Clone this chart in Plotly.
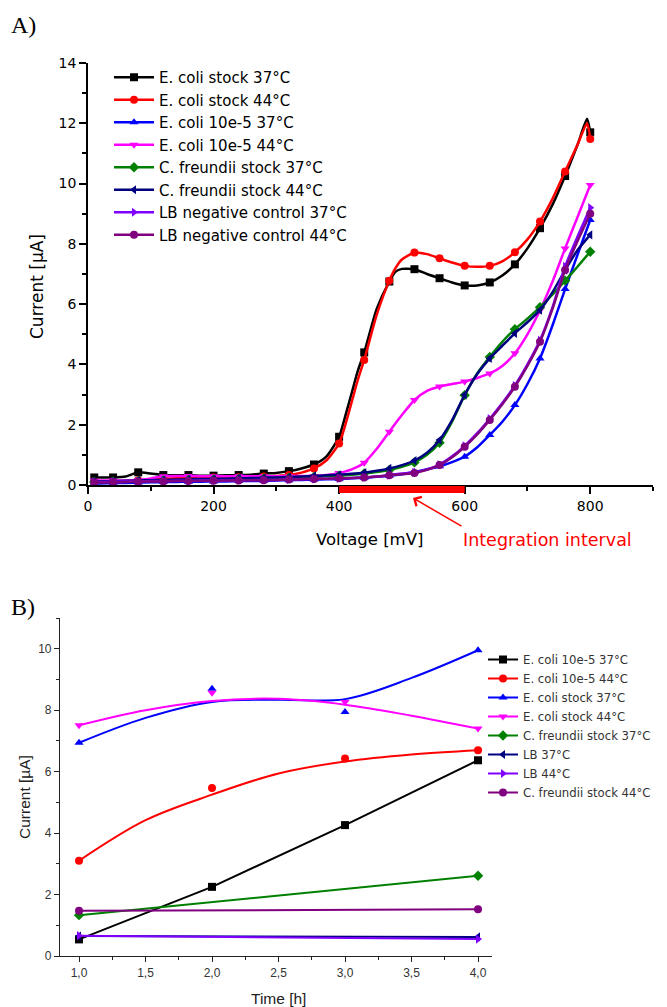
import plotly.graph_objects as go

# ---------------- Panel A data (Voltage sweep) ----------------
VOLTAGE = [10, 20, 40, 60, 80, 100, 120, 140, 160, 180, 200, 220, 240, 260, 280, 300,
           320, 340, 360, 380, 400, 420, 440, 460, 480, 500, 520, 540, 560, 580, 600,
           620, 640, 660, 680, 700, 720, 740, 760, 780, 800]
VOLTAGE_STOCK = [10, 20, 40, 60, 80, 100, 120, 140, 160, 180, 200, 220, 240, 260, 280, 300,
                 320, 340, 360, 380, 400, 410, 420, 430, 440, 460, 480, 490, 500, 520, 540,
                 560, 580, 600, 620, 640, 660, 680, 700, 720, 740, 760, 780, 795, 800]

ecoli_stock_37 = [0.25, 0.25, 0.25, 0.28, 0.42, 0.38, 0.33, 0.32, 0.33, 0.31, 0.31, 0.32, 0.33,
                  0.34, 0.38, 0.40, 0.46, 0.55, 0.68, 0.95, 1.60, 2.30, 3.05, 3.80, 4.40, 5.85,
                  6.75, 7.08, 7.17, 7.16, 7.00, 6.86, 6.72, 6.62, 6.62, 6.72, 6.95, 7.32, 7.85,
                  8.52, 9.30, 10.25, 11.30, 12.15, 11.70]
ecoli_stock_44 = [0.08, 0.09, 0.11, 0.13, 0.16, 0.19, 0.21, 0.22, 0.23, 0.24, 0.25, 0.25, 0.26,
                  0.27, 0.28, 0.30, 0.33, 0.41, 0.55, 0.82, 1.38, 2.00, 2.75, 3.50, 4.15, 5.65,
                  6.78, 7.20, 7.48, 7.71, 7.66, 7.52, 7.38, 7.27, 7.24, 7.27, 7.42, 7.72, 8.15,
                  8.74, 9.50, 10.40, 11.30, 12.00, 11.48]
ecoli_10e5_37 = [0.05, 0.05, 0.06, 0.07, 0.08, 0.09, 0.10, 0.10, 0.11, 0.11, 0.12, 0.12, 0.13,
                 0.13, 0.14, 0.15, 0.16, 0.17, 0.18, 0.19, 0.20, 0.22, 0.24, 0.27, 0.31, 0.36,
                 0.43, 0.52, 0.62, 0.76, 0.94, 1.25, 1.66, 2.10, 2.65, 3.35, 4.20, 5.30, 6.50,
                 7.65, 8.79]
ecoli_10e5_44 = [0.15, 0.15, 0.15, 0.15, 0.17, 0.22, 0.29, 0.30, 0.30, 0.29, 0.29, 0.29, 0.29,
                 0.29, 0.29, 0.29, 0.29, 0.30, 0.30, 0.33, 0.40, 0.52, 0.74, 1.20, 1.77, 2.32,
                 2.82, 3.12, 3.27, 3.35, 3.43, 3.55, 3.70, 3.95, 4.37, 5.00, 5.80, 6.75, 7.85,
                 8.90, 9.95]
cfreundii_37 = [0.10, 0.10, 0.11, 0.12, 0.13, 0.14, 0.15, 0.16, 0.17, 0.18, 0.18, 0.19, 0.20,
                0.21, 0.22, 0.23, 0.24, 0.26, 0.27, 0.29, 0.31, 0.34, 0.38, 0.43, 0.50, 0.60,
                0.75, 1.00, 1.40, 2.10, 2.98, 3.70, 4.25, 4.75, 5.17, 5.52, 5.90, 6.32, 6.78,
                7.25, 7.74]
cfreundii_44 = [0.12, 0.12, 0.13, 0.14, 0.15, 0.16, 0.17, 0.18, 0.19, 0.20, 0.20, 0.21, 0.22,
                0.23, 0.24, 0.25, 0.26, 0.28, 0.30, 0.32, 0.34, 0.37, 0.41, 0.47, 0.55, 0.66,
                0.81, 1.07, 1.49, 2.15, 2.99, 3.68, 4.20, 4.62, 5.03, 5.40, 5.80, 6.40, 7.13,
                7.80, 8.30]
lb_37 = [0.10, 0.10, 0.11, 0.12, 0.12, 0.13, 0.13, 0.14, 0.14, 0.15, 0.15, 0.15, 0.16, 0.16,
         0.17, 0.17, 0.18, 0.19, 0.20, 0.21, 0.22, 0.23, 0.25, 0.28, 0.33, 0.38, 0.42, 0.52,
         0.68, 0.95, 1.30, 1.72, 2.20, 2.72, 3.30, 4.00, 4.80, 5.90, 7.25, 8.25, 9.20]
lb_44 = [0.08, 0.08, 0.09, 0.10, 0.11, 0.12, 0.12, 0.13, 0.13, 0.14, 0.14, 0.15, 0.15, 0.16,
         0.16, 0.17, 0.18, 0.19, 0.20, 0.21, 0.22, 0.23, 0.25, 0.28, 0.32, 0.36, 0.40, 0.50,
         0.66, 0.92, 1.27, 1.68, 2.16, 2.68, 3.26, 3.95, 4.75, 5.85, 7.13, 8.10, 9.00]

A_NAMES = ["E. coli stock 37°C", "E. coli stock 44°C", "E. coli 10e-5 37°C", "E. coli 10e-5 44°C",
           "C. freundii stock 37°C", "C. freundii stock 44°C", "LB negative control 37°C",
           "LB negative control 44°C"]
INTEGRATION_INTERVAL = [400, 600]

# ---------------- Panel B data (Time course) ----------------
TIME = [1, 2, 3, 4]
TIME_ENDS = [1, 4]
FIT_TIME = [1, 1.5, 2, 2.5, 3, 3.5, 4]

b_ecoli_10e5_37 = [0.54, 2.25, 4.26, 6.37]
b_ecoli_10e5_44 = [3.10, 5.47, 6.43, 6.70]
b_ecoli_10e5_44_fit = [3.10, 4.42, 5.25, 5.94, 6.33, 6.56, 6.70]
b_ecoli_stock_37 = [6.94, 8.70, 7.94, 9.95]
b_ecoli_stock_37_fit = [6.94, 7.75, 8.27, 8.34, 8.36, 9.05, 9.95]
b_ecoli_stock_44 = [7.51, 8.57, 8.27, 7.40]
b_ecoli_stock_44_fit = [7.51, 8.00, 8.30, 8.37, 8.18, 7.82, 7.40]
b_cfreundii_37 = [1.33, 2.61]
b_lb_37 = [0.65, 0.62]
b_lb_44 = [0.66, 0.55]
b_cfreundii_44 = [1.47, 1.52]

# The page body has an 8 px margin, so the figure is 8 px smaller and
# reference-pixel positions are converted with that offset.
OFF = 8
W, H = 667 - OFF, 1007 - OFF
def px(x):
    return (x - OFF) / W
def py(y):
    return 1 - (y - OFF) / H

FONT = "Liberation Sans, Arial, sans-serif"
FONT_A = "DejaVu Sans, Liberation Sans, sans-serif"
fig = go.Figure()

def mcolors(xs, color):
    return [color if (v == 10 or v % 40 == 0) else "rgba(0,0,0,0)" for v in xs]

a_series = [
    (VOLTAGE_STOCK, ecoli_stock_37, "#000000", "square"),
    (VOLTAGE_STOCK, ecoli_stock_44, "#ff0000", "circle"),
    (VOLTAGE, ecoli_10e5_37, "#0000ff", "triangle-up"),
    (VOLTAGE, ecoli_10e5_44, "#ff00ff", "triangle-down"),
    (VOLTAGE, cfreundii_37, "#008000", "diamond"),
    (VOLTAGE, cfreundii_44, "#000080", "triangle-left"),
    (VOLTAGE, lb_37, "#8000ff", "triangle-right"),
    (VOLTAGE, lb_44, "#800080", "circle"),
]
for name, (xs, ys, c, sym) in zip(A_NAMES, a_series):
    fig.add_trace(go.Scatter(
        x=xs, y=ys, name=name, mode="lines+markers", xaxis="x", yaxis="y",
        legend="legend", cliponaxis=False,
        line=dict(color=c, width=2.5, shape="spline", smoothing=0.6),
        marker=dict(symbol=sym, size=8, color=mcolors(xs, c), line=dict(width=0)),
    ))

# Panel B
def b_line(name, xs, ys, c, sym):
    fig.add_trace(go.Scatter(
        x=xs, y=ys, name=name, mode="lines+markers", xaxis="x2", yaxis="y2",
        legend="legend2", cliponaxis=False,
        line=dict(color=c, width=2), marker=dict(symbol=sym, size=8, color=c)))

def b_fit(name, xs, ys, fx, fy, c, sym):
    fig.add_trace(go.Scatter(
        x=fx, y=fy, mode="lines", xaxis="x2", yaxis="y2", showlegend=False,
        line=dict(color=c, width=2, shape="spline", smoothing=1.0), hoverinfo="skip"))
    fig.add_trace(go.Scatter(
        x=xs, y=ys, mode="markers", xaxis="x2", yaxis="y2", showlegend=False,
        cliponaxis=False, marker=dict(symbol=sym, size=8, color=c)))
    fig.add_trace(go.Scatter(
        x=[None], y=[None], name=name, mode="lines+markers", xaxis="x2", yaxis="y2",
        legend="legend2", line=dict(color=c, width=2), marker=dict(symbol=sym, size=8, color=c)))

b_line("E. coli 10e-5 37°C", TIME, b_ecoli_10e5_37, "#000000", "square")
b_fit("E. coli 10e-5 44°C", TIME, b_ecoli_10e5_44, FIT_TIME, b_ecoli_10e5_44_fit, "#ff0000", "circle")
b_fit("E. coli stock 37°C", TIME, b_ecoli_stock_37, FIT_TIME, b_ecoli_stock_37_fit, "#0000ff", "triangle-up")
b_fit("E. coli stock 44°C", TIME, b_ecoli_stock_44, FIT_TIME, b_ecoli_stock_44_fit, "#ff00ff", "triangle-down")
b_line("C. freundii stock 37°C", TIME_ENDS, b_cfreundii_37, "#008000", "diamond")
b_line("LB 37°C", TIME_ENDS, b_lb_37, "#000080", "triangle-left")
b_line("LB 44°C", TIME_ENDS, b_lb_44, "#8000ff", "triangle-right")
b_line("C. freundii stock 44°C", TIME_ENDS, b_cfreundii_44, "#800080", "circle")

axA = dict(showline=True, linecolor="black", linewidth=1.5, ticks="outside", ticklen=7,
           tickwidth=1.5, tickcolor="black", showgrid=False, zeroline=False, automargin=False,
           tickfont=dict(family=FONT_A, size=14, color="black"))
axB = dict(showline=True, linecolor="#222222", linewidth=1.2, ticks="outside", ticklen=5,
           tickwidth=1.2, tickcolor="#222222", showgrid=False, zeroline=False, automargin=False,
           tickfont=dict(family=FONT, size=12, color="#333333"))

fig.update_layout(
    template="none",
    width=W, height=H, margin=dict(l=0, r=0, t=0, b=0, pad=0, autoexpand=False), autosize=False,
    paper_bgcolor="white", plot_bgcolor="white", separators=", ",
    font=dict(family=FONT, color="black"),
    xaxis=dict(axA, domain=[px(88), px(653)], range=[0, 900], dtick=200, tick0=0, anchor="y",
               minor=dict(dtick=100, ticks="outside", ticklen=4, tickwidth=1.5, tickcolor="black")),
    yaxis=dict(axA, domain=[py(485), py(63)], range=[0, 14], dtick=2, tick0=0, anchor="x",
               minor=dict(dtick=1, ticks="outside", ticklen=4, tickwidth=1.5, tickcolor="black")),
    xaxis2=dict(axB, domain=[px(60), px(492)], range=[0.857, 4.105], dtick=0.5, tick0=1,
                tickformat=".1f", anchor="y2",
                minor=dict(dtick=0.25, ticks="outside", ticklen=3, tickwidth=1.2, tickcolor="#222222")),
    yaxis2=dict(axB, domain=[py(956), py(618)], range=[0, 11], dtick=2, tick0=0, anchor="x2",
                minor=dict(dtick=1, ticks="outside", ticklen=3, tickwidth=1.2, tickcolor="#222222")),
    legend=dict(x=px(109), y=py(61), xanchor="left", yanchor="top", bgcolor="rgba(0,0,0,0)",
                font=dict(family=FONT_A, size=15, color="black"), itemwidth=40, tracegroupgap=0),
    legend2=dict(x=px(483), y=py(645), xanchor="left", yanchor="top", bgcolor="rgba(0,0,0,0)",
                 font=dict(family=FONT_A, size=11.7, color="#333333"), itemwidth=30, tracegroupgap=0),
)

# integration interval bar under the A x-axis
fig.add_shape(type="rect", xref="x", yref="paper", x0=INTEGRATION_INTERVAL[0], x1=INTEGRATION_INTERVAL[1],
              y0=py(493), y1=py(486), fillcolor="#ff0000", line=dict(width=0))

SERIF = "Liberation Serif, Times New Roman, serif"
def text_ann(x, y, text, font, angle=0, xanchor="center"):
    return dict(xref="paper", yref="paper", x=px(x), y=py(y), text=text, textangle=angle,
                xanchor=xanchor, yanchor="middle", showarrow=False, font=font)

ann = [
    dict(xref="paper", yref="paper", x=px(413), y=py(498), ax=50, ay=29, text="",
         showarrow=True, arrowhead=4, arrowsize=1.4, arrowwidth=1.5, arrowcolor="#ff0000"),
    text_ann(547, 540, "Integration interval", dict(family=FONT_A, size=17.5, color="#ff0000")),
    text_ann(370, 539, "Voltage [mV]", dict(family=FONT_A, size=16.5, color="black")),
    text_ann(37, 287, "Current [µA]", dict(family=FONT_A, size=17, color="black"), angle=-90),
    text_ann(278, 998, "Time [h]", dict(family=FONT, size=15.5, color="#222222")),
    text_ann(24, 797, "Current [µA]", dict(family=FONT, size=15.5, color="#222222"), angle=-90),
    text_ann(9, 25, "A)", dict(family=SERIF, size=24, color="black"), xanchor="left"),
    text_ann(9, 607, "B)", dict(family=SERIF, size=24, color="black"), xanchor="left"),
]
fig.update_layout(annotations=ann)

fig.write_html("out.html")
